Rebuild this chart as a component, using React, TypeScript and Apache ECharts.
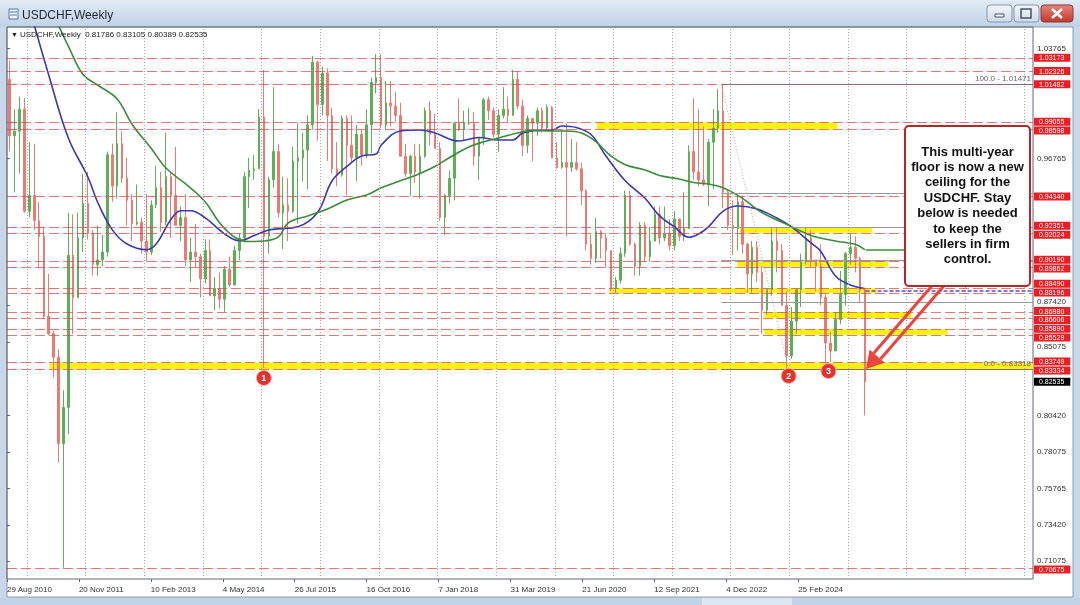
import React, { useEffect, useRef } from "react";
import * as echarts from "echarts";

// ---------------- data ----------------
const ORIGIN = "2010-08-29"; // first bar of the chart
const FIRST_MONTH = "2010-09";
const FIRST_OPEN = 1.018;

const highs = [
  1.03, 0.999, 1.007, 1.006, 0.978, 0.977, 0.94, 0.924, 0.894, 0.858, 0.846, 0.82,
  0.933, 0.932, 0.933, 0.958, 0.959, 0.922, 0.925, 0.919, 0.972, 0.977, 0.997, 0.985,
  0.968, 0.945, 0.951, 0.93, 0.945, 0.941, 0.963, 0.959, 0.984, 0.959, 0.975, 0.937,
  0.945, 0.917, 0.926, 0.907, 0.916, 0.916, 0.892, 0.895, 0.899, 0.905, 0.912, 0.92,
  0.959, 0.968, 0.97, 0.999, 1.024, 0.956, 1.013, 0.977, 0.956, 0.955, 0.975, 0.99,
  0.984, 0.995, 1.033, 1.03, 1.026, 1.025, 1.0, 0.978, 0.995, 0.995, 0.995, 0.989,
  0.986, 0.999, 1.019, 1.034, 1.034, 1.017, 1.017, 1.01, 1.003, 0.977, 0.97, 0.977,
  0.977, 1.0, 1.004, 0.996, 0.978, 0.945, 0.96, 0.991, 1.006, 0.998, 1.0, 0.997,
  0.981, 1.006, 1.007, 1.0, 0.999, 1.013, 1.007, 1.024, 1.023, 1.005, 0.995, 0.993,
  1.0, 1.0, 1.002, 1.001, 0.978, 0.985, 0.99, 0.98, 0.978, 0.965, 0.948, 0.919,
  0.93, 0.922, 0.92, 0.909, 0.892, 0.911, 0.947, 0.947, 0.914, 0.927, 0.927, 0.924,
  0.937, 0.937, 0.937, 0.929, 0.934, 0.929, 0.946, 0.976, 1.006, 0.999, 0.988, 0.98,
  0.999, 1.012, 1.0147, 0.947, 0.941, 0.944, 0.944, 0.914, 0.915, 0.915, 0.899, 0.885,
  0.924, 0.924, 0.913, 0.883, 0.873, 0.885, 0.907, 0.924, 0.922, 0.903, 0.913, 0.881,
  0.857, 0.87, 0.896, 0.908, 0.92, 0.918, 0.905, 0.885,
];
const lows = [
  0.972, 0.946, 0.958, 0.933, 0.93, 0.922, 0.898, 0.866, 0.855, 0.828, 0.774, 0.707,
  0.792, 0.856, 0.879, 0.908, 0.916, 0.893, 0.893, 0.899, 0.905, 0.94, 0.942, 0.952,
  0.925, 0.915, 0.925, 0.907, 0.902, 0.906, 0.936, 0.921, 0.925, 0.917, 0.925, 0.915,
  0.899, 0.889, 0.898, 0.879, 0.888, 0.88, 0.871, 0.872, 0.87, 0.886, 0.887, 0.903,
  0.914, 0.936, 0.954, 0.961, 0.834, 0.907, 0.949, 0.93, 0.91, 0.915, 0.933, 0.926,
  0.953, 0.948, 0.986, 0.979, 0.995, 0.966, 0.958, 0.95, 0.956, 0.944, 0.965, 0.953,
  0.963, 0.968, 0.971, 1.009, 0.987, 0.986, 0.988, 0.991, 0.969, 0.956, 0.944, 0.952,
  0.942, 0.968, 0.976, 0.974, 0.928, 0.919, 0.939, 0.941, 0.985, 0.979, 0.989, 0.963,
  0.954, 0.976, 0.992, 0.981, 0.972, 0.993, 0.99, 0.995, 0.999, 0.969, 0.971, 0.966,
  0.982, 0.984, 0.985, 0.968, 0.961, 0.961, 0.918, 0.959, 0.96, 0.938, 0.909, 0.9,
  0.901, 0.904, 0.898, 0.883, 0.882, 0.888, 0.905, 0.912, 0.893, 0.893, 0.902, 0.902,
  0.915, 0.913, 0.915, 0.909, 0.909, 0.915, 0.915, 0.923, 0.954, 0.95, 0.95, 0.937,
  0.948, 0.984, 0.936, 0.922, 0.906, 0.909, 0.907, 0.882, 0.882, 0.889, 0.856, 0.868,
  0.88, 0.895, 0.874, 0.8333, 0.84, 0.856, 0.873, 0.9, 0.898, 0.883, 0.874, 0.8375,
  0.838, 0.845, 0.862, 0.874, 0.9, 0.895, 0.876, 0.80389,
];
const closes = [
  0.982, 0.985, 0.999, 0.934, 0.944, 0.928, 0.918, 0.867, 0.856, 0.841, 0.786, 0.809,
  0.906, 0.879, 0.917, 0.939, 0.92, 0.9, 0.903, 0.908, 0.97, 0.95, 0.977, 0.955,
  0.941, 0.926, 0.927, 0.915, 0.908, 0.938, 0.949, 0.927, 0.956, 0.944, 0.925, 0.93,
  0.903, 0.908, 0.905, 0.891, 0.909, 0.88, 0.885, 0.878, 0.897, 0.887, 0.909, 0.917,
  0.956, 0.96, 0.961, 0.994, 0.918, 0.954, 0.972, 0.933, 0.938, 0.934, 0.966, 0.968,
  0.973, 0.989, 1.029, 1.002, 1.022, 0.995, 0.961, 0.957, 0.993, 0.976, 0.968, 0.983,
  0.97, 0.989, 1.016, 1.019, 0.989, 1.003, 1.001, 0.995, 0.969, 0.958, 0.969, 0.959,
  0.969, 0.998, 0.983, 0.974, 0.93, 0.944, 0.955, 0.99, 0.986, 0.99, 0.99, 0.969,
  0.981, 1.005, 0.998, 0.983, 0.995, 0.999, 0.995, 1.018, 1.001, 0.976, 0.993, 0.99,
  0.998, 0.987, 1.0, 0.968, 0.962, 0.965, 0.962, 0.965, 0.961, 0.947, 0.913, 0.904,
  0.921, 0.917, 0.909, 0.885, 0.89, 0.907, 0.944, 0.913, 0.899, 0.925, 0.905, 0.915,
  0.932, 0.917, 0.92, 0.912, 0.929, 0.918, 0.923, 0.972, 0.959, 0.954, 0.951, 0.978,
  0.987, 0.998, 0.946, 0.925, 0.923, 0.94, 0.913, 0.894, 0.911, 0.895, 0.871, 0.884,
  0.915, 0.909, 0.874, 0.842, 0.864, 0.884, 0.902, 0.917, 0.903, 0.899, 0.879, 0.85,
  0.845, 0.865, 0.881, 0.907, 0.911, 0.904, 0.884, 0.82535,
];

// moving averages (blue = faster, green = slower)
const blueMaMonths = [
  "2011-02", "2011-05", "2011-09", "2012-01", "2012-03", "2012-06", "2012-09", "2013-01",
  "2013-03", "2013-06", "2013-08", "2013-10", "2014-01", "2014-05", "2014-08", "2014-11",
  "2015-02", "2015-05", "2015-08", "2015-12", "2016-03", "2016-06", "2016-09", "2016-12",
  "2017-01", "2017-05", "2017-09", "2017-12", "2018-05", "2018-09", "2019-01", "2019-04",
  "2019-06", "2019-09", "2019-12", "2020-02", "2020-05", "2020-08", "2020-11", "2021-03",
  "2021-07", "2021-10", "2022-01", "2022-04", "2022-06", "2022-08", "2022-11", "2023-02",
  "2023-06", "2023-10", "2024-01", "2024-05", "2024-07", "2024-10", "2025-01", "2025-04",
];
const blueMaValues = [
  1.0526, 1.0211, 0.9806, 0.9558, 0.9399, 0.9221, 0.9131, 0.9095,
  0.9131, 0.9287, 0.9343, 0.9343, 0.9298, 0.9196, 0.9152, 0.9185,
  0.922, 0.923, 0.9241, 0.9332, 0.9534, 0.9625, 0.9692, 0.9705,
  0.9762, 0.9851, 0.9857, 0.9838, 0.9787, 0.981, 0.9794, 0.9794,
  0.9838, 0.9855, 0.9857, 0.9883, 0.9873, 0.9827, 0.9692, 0.9534,
  0.9424, 0.931, 0.9241, 0.9174, 0.9195, 0.924, 0.9341, 0.9373,
  0.9354, 0.9297, 0.924, 0.9138, 0.9084, 0.8927, 0.887, 0.8847,
];
const greenMaMonths = [
  "2011-07", "2011-09", "2011-12", "2012-03", "2012-07", "2012-10", "2013-02", "2013-05",
  "2013-09", "2014-01", "2014-04", "2014-07", "2014-10", "2015-01", "2015-04", "2015-06",
  "2015-10", "2016-02", "2016-06", "2016-10", "2017-01", "2017-05", "2017-08", "2017-12",
  "2018-03", "2018-07", "2018-10", "2019-01", "2019-05", "2019-08", "2019-12", "2020-03",
  "2020-06", "2020-09", "2020-12", "2021-03", "2021-07", "2021-10", "2022-02", "2022-05",
  "2022-08", "2022-11", "2023-03", "2023-07", "2024-01", "2024-05", "2024-10", "2025-02",
  "2025-04",
];
const greenMaValues = [
  1.0526, 1.0392, 1.0211, 1.0144, 1.0055, 0.9896, 0.9736, 0.9615,
  0.9514, 0.9399, 0.9265, 0.9176, 0.9147, 0.915, 0.9176, 0.9265,
  0.931, 0.9354, 0.9412, 0.9443, 0.9489, 0.9534, 0.9568, 0.9625,
  0.9681, 0.9749, 0.9782, 0.9806, 0.9838, 0.9855, 0.9851, 0.9851,
  0.9838, 0.9782, 0.9692, 0.9636, 0.9603, 0.9568, 0.9545, 0.9523,
  0.9513, 0.9489, 0.9422, 0.9332, 0.9242, 0.9186, 0.915, 0.9129,
  0.9095,
];

// axes
const xTickDates = [
  "2010-08-29", "2011-11-20", "2013-02-10", "2014-05-04", "2015-07-26", "2016-10-16",
  "2018-01-07", "2019-03-31", "2020-06-21", "2021-09-12", "2022-12-04", "2024-02-25",
];
const xTickLabels = [
  "29 Aug 2010", "20 Nov 2011", "10 Feb 2013", "4 May 2014", "26 Jul 2015", "16 Oct 2016",
  "7 Jan 2018", "31 Mar 2019", "21 Jun 2020", "12 Sep 2021", "4 Dec 2022", "25 Feb 2024",
];
const gridYears = [2011, 2012, 2013, 2014, 2015, 2016, 2017, 2018, 2019, 2020, 2021, 2022, 2023, 2024, 2025, 2026, 2027, 2028];
const yTickValues = [1.03765, 0.96765, 0.8742, 0.85075, 0.8042, 0.78075, 0.75765, 0.7342, 0.71075];

// horizontal levels (red dashed lines with red price tags)
const levelPrices = [
  1.03173, 1.02326, 1.01482, 0.99055, 0.98598, 0.9434, 0.92351, 0.92024, 0.9019, 0.89862,
  0.8849, 0.88196, 0.8698, 0.86606, 0.8589, 0.85529, 0.83749, 0.83334, 0.70675,
];

// yellow zones
const bandTops = [0.99055, 0.92351, 0.9019, 0.8849, 0.8698, 0.8589, 0.83749];
const bandBottoms = [0.98598, 0.92024, 0.89862, 0.88196, 0.86606, 0.85529, 0.83334];
const bandStarts = ["2020-09-20", "2023-02-26", "2023-02-12", "2020-12-06", "2023-07-30", "2023-07-30", "2011-05-22"];
const bandEnds = ["2024-10-27", "2025-06-01", "2025-09-07", "2025-06-29", "2026-02-01", "2026-09-13", "2028-12-31"];

// fibonacci retracement
const fibHighDate = "2022-11-03";
const fibHigh = 1.01471;
const fibLowDate = "2023-12-28";
const fibLow = 0.83318;
const fibRatios = [0.236, 0.382, 0.5, 0.618];

const currentPrice = 0.82535;
const lastBarDate = "2025-04-20";

const markerLabels = ["1", "2", "3"];
const markerDates = ["2015-01-15", "2023-12-28", "2024-09-01"];
const markerPrices = [0.8278, 0.8291, 0.8322];

const noteLines = [
  "This multi-year",
  "floor is now a new",
  "ceiling for the",
  "USDCHF. Stay",
  "below is needed",
  "to keep the",
  "sellers in firm",
  "control.",
];

// ---------------- helpers ----------------
const WEEK_MS = 7 * 86400000;
const toUTC = (s: string) => {
  const [y, m, d] = s.split("-").map(Number);
  return Date.UTC(y, m - 1, d || 15);
};
const ORIGIN_MS = toUTC(ORIGIN);
const weekOf = (s: string) => (toUTC(s) - ORIGIN_MS) / WEEK_MS;

const monthAt = (i: number) => {
  const [y0, m0] = FIRST_MONTH.split("-").map(Number);
  const t = m0 - 1 + i;
  const y = y0 + Math.floor(t / 12);
  const m = (t % 12) + 1;
  return `${y}-${String(m).padStart(2, "0")}`;
};

const FONT = "Liberation Sans";
const X_MAX = 913;
const Y_MIN = 0.69975;
const Y_MAX = 1.05134;
const GRID_TOP = 27;
const GRID_BOTTOM = 26;
const PLOT_H = 605 - GRID_TOP - GRID_BOTTOM;

type PriceLabel = { p: number; kind: "tag" | "axis" | "cur"; h: number; y: number };

// spread the right-hand price texts so that none of them overlap
function layoutPriceLabels(): PriceLabel[] {
  const k = PLOT_H / (Y_MAX - Y_MIN);
  const items: PriceLabel[] = [
    ...levelPrices.map((p) => ({ p, kind: "tag" as const, h: 8.4, y: 0 })),
    ...yTickValues.map((p) => ({ p, kind: "axis" as const, h: 9.4, y: 0 })),
    { p: currentPrice, kind: "cur" as const, h: 8.4, y: 0 },
  ];
  items.forEach((it) => (it.y = (Y_MAX - it.p) * k));
  items.sort((a, b) => a.y - b.y);
  for (let iter = 0; iter < 400; iter++) {
    let moved = false;
    for (let i = 1; i < items.length; i++) {
      const a = items[i - 1];
      const b = items[i];
      const need = (a.h + b.h) / 2 + 0.4 - (b.y - a.y);
      if (need > 0.001) {
        a.y -= need / 2;
        b.y += need / 2;
        moved = true;
      }
    }
    if (!moved) break;
  }
  items.forEach((it) => (it.y = Y_MAX - it.y / k));
  return items;
}

export default function App() {
  const ref = useRef<HTMLDivElement>(null);

  useEffect(() => {
    if (!ref.current) return;
    const chart = echarts.init(ref.current, null, { renderer: "svg" });

    const candles = closes.map((c, i) => {
      const o = i === 0 ? FIRST_OPEN : closes[i - 1];
      const h = Math.max(highs[i], o, c);
      const l = Math.min(lows[i], o, c);
      return [weekOf(monthAt(i) + "-15"), o, c, l, h];
    });
    const blueMa = blueMaMonths.map((m, i) => [weekOf(m + "-15"), blueMaValues[i]]);
    const greenMa = greenMaMonths.map((m, i) => [weekOf(m + "-15"), greenMaValues[i]]);
    const xTickWeeks = xTickDates.map(weekOf);

    const priceLabels = layoutPriceLabels().map((it) => {
      const base: any = {
        show: true,
        position: "end",
        opacity: 1,
        fontFamily: FONT,
        formatter: it.p.toFixed(5),
      };
      if (it.kind === "axis") {
        Object.assign(base, { distance: 4, fontSize: 8, color: "#333333", lineHeight: 9 });
      } else {
        Object.assign(base, {
          distance: 1,
          fontSize: 7,
          lineHeight: 8,
          color: "#ffffff",
          backgroundColor: it.kind === "cur" ? "#000000" : "#ee1d23",
          padding: [0, 6, 0, 5],
        });
      }
      return { yAxis: it.y, label: base };
    });

    const fibLines: any[] = [];
    const fw0 = weekOf(fibHighDate);
    fibRatios.forEach((r) => {
      const p = fibLow + r * (fibHigh - fibLow);
      fibLines.push([
        { coord: [fw0, p], lineStyle: { color: "#9a9a9a", width: 1, type: "solid" } },
        { coord: [X_MAX, p] },
      ]);
    });
    fibLines.push([
      {
        coord: [fw0, fibHigh],
        lineStyle: { color: "#8d6b6b", width: 1, type: "solid" },
        label: {
          show: true,
          position: "insideEndTop",
          formatter: "100.0 - " + fibHigh.toFixed(5),
          color: "#666",
          fontSize: 8,
          fontFamily: FONT,
          distance: 2,
        },
      },
      { coord: [X_MAX, fibHigh] },
    ]);
    fibLines.push([
      {
        coord: [fw0, fibLow],
        lineStyle: { color: "#8d6b6b", width: 1, type: "solid" },
        label: {
          show: true,
          position: "insideEndTop",
          formatter: "0.0 - " + fibLow.toFixed(5),
          color: "#666",
          fontSize: 8,
          fontFamily: FONT,
          distance: 2,
        },
      },
      { coord: [X_MAX, fibLow] },
    ]);
    fibLines.push([
      { coord: [fw0, fibHigh], lineStyle: { color: "#c9a0a0", width: 1, type: [1, 2] } },
      { coord: [weekOf(fibLowDate), fibLow] },
    ]);
    // extensions of the averages to the right of the last bar
    fibLines.push([
      { coord: [weekOf(lastBarDate), blueMaValues[blueMaValues.length - 1] - 0.0012], lineStyle: { color: "#5252d6", width: 1.5, type: [4, 2] } },
      { coord: [X_MAX, blueMaValues[blueMaValues.length - 1] - 0.0012] },
    ]);
    fibLines.push([
      { coord: [weekOf(lastBarDate), greenMaValues[greenMaValues.length - 1]], lineStyle: { color: "#3a8f3a", width: 1.5, type: "solid" } },
      { coord: [weekOf("2025-12-31"), greenMaValues[greenMaValues.length - 1]] },
    ]);

    const gBtn = (x: number, w: number, top: string, bottom: string, stroke: string) => ({
      type: "rect",
      shape: { x, y: 5, width: w, height: 17, r: 3 },
      style: {
        fill: new echarts.graphic.LinearGradient(0, 0, 0, 1, [
          { offset: 0, color: top },
          { offset: 1, color: bottom },
        ]),
        stroke,
        lineWidth: 1,
      },
      z: -90,
      silent: true,
    });

    const txt = (text: string, x: number, y: number, font: string, fill: string, align = "left") => ({
      type: "text",
      x,
      y,
      style: {
        text,
        font,
        fill,
        textAlign: align,
        align,
        textVerticalAlign: "middle",
        verticalAlign: "middle",
      },
      silent: true,
    });

    // arrow geometry
    const tip = [866, 369];
    const start = [943, 280];
    const dx = start[0] - tip[0];
    const dy = start[1] - tip[1];
    const len = Math.hypot(dx, dy);
    const u = [dx / len, dy / len]; // from tip towards start
    const n = [-u[1], u[0]];
    const base = [tip[0] + 17 * u[0], tip[1] + 17 * u[1]];
    const off = 4.5;
    const headW = 10;

    const graphics: any[] = [
      { type: "rect", shape: { x: 0, y: 0, width: 1080, height: 605 }, style: { fill: "#c8d7ea" }, z: -100, silent: true },
      {
        type: "rect",
        shape: { x: 0, y: 0, width: 1080, height: 27 },
        style: {
          fill: new echarts.graphic.LinearGradient(0, 0, 0, 1, [
            { offset: 0, color: "#e2ebf6" },
            { offset: 1, color: "#c0d2e8" },
          ]),
        },
        z: -99,
        silent: true,
      },
      { type: "rect", shape: { x: 7, y: 27, width: 1066, height: 570 }, style: { fill: "#ffffff", stroke: "#8e9db0", lineWidth: 1 }, z: -98, silent: true },
      { type: "rect", shape: { x: 0, y: 598, width: 1080, height: 7 }, style: { fill: "#c3d3e7" }, z: -97, silent: true },
      { type: "rect", shape: { x: 702, y: 598, width: 90, height: 7 }, style: { fill: "#dde7f3" }, z: -96, silent: true },
      // title icon
      { type: "rect", shape: { x: 9, y: 9, width: 9, height: 10 }, style: { fill: "#eef4fb", stroke: "#5577a8", lineWidth: 1 }, z: -90, silent: true },
      { type: "line", shape: { x1: 10, y1: 12, x2: 17, y2: 12 }, style: { stroke: "#5577a8", lineWidth: 1 }, z: -89, silent: true },
      { type: "line", shape: { x1: 10, y1: 15, x2: 17, y2: 15 }, style: { stroke: "#5577a8", lineWidth: 1 }, z: -89, silent: true },
      { ...txt("USDCHF,Weekly", 22, 15, `12px "${FONT}"`, "#1d2733"), z: -89 },
      // window buttons
      gBtn(987, 25, "#f3f6fb", "#cfdbea", "#8797ad"),
      gBtn(1014, 25, "#f3f6fb", "#cfdbea", "#8797ad"),
      gBtn(1041, 32, "#e6847a", "#c2392d", "#8a3b35"),
      { type: "rect", shape: { x: 995, y: 14, width: 9, height: 3 }, style: { fill: "#ffffff", stroke: "#44546a", lineWidth: 1 }, z: -88, silent: true },
      { type: "rect", shape: { x: 1021, y: 9, width: 10, height: 9 }, style: { fill: "none", stroke: "#44546a", lineWidth: 1.5 }, z: -88, silent: true },
      { type: "line", shape: { x1: 1052, y1: 9, x2: 1062, y2: 18 }, style: { stroke: "#ffffff", lineWidth: 2.5 }, z: -88, silent: true },
      { type: "line", shape: { x1: 1062, y1: 9, x2: 1052, y2: 18 }, style: { stroke: "#ffffff", lineWidth: 2.5 }, z: -88, silent: true },
      // header of the chart window
      { ...txt("\u25BC", 11, 34, `7px "${FONT}"`, "#222"), z: 50 },
      { ...txt("USDCHF,Weekly  0.81786 0.83105 0.80389 0.82535", 20, 34, `8px "${FONT}"`, "#222"), z: 50 },
      // arrow
      {
        type: "line",
        shape: { x1: start[0] + off * n[0], y1: start[1] + off * n[1], x2: base[0] + off * n[0], y2: base[1] + off * n[1] },
        style: { stroke: "#e8463f", lineWidth: 3 },
        z: 90,
        silent: true,
      },
      {
        type: "line",
        shape: { x1: start[0] - off * n[0], y1: start[1] - off * n[1], x2: base[0] - off * n[0], y2: base[1] - off * n[1] },
        style: { stroke: "#e8463f", lineWidth: 3 },
        z: 90,
        silent: true,
      },
      {
        type: "polygon",
        shape: {
          points: [
            [tip[0], tip[1]],
            [base[0] + headW * n[0], base[1] + headW * n[1]],
            [base[0] - headW * n[0], base[1] - headW * n[1]],
          ],
        },
        style: { fill: "#e8463f" },
        z: 90,
        silent: true,
      },
      // note box
      {
        type: "rect",
        shape: { x: 905, y: 126, width: 125, height: 160, r: 4 },
        style: { fill: "#ffffff", stroke: "#b3262b", lineWidth: 2 },
        z: 95,
        silent: true,
      },
      ...noteLines.map((t, i) => ({
        ...txt(t, 967.5, 151 + i * 15.4, `bold 13px "${FONT}"`, "#111111", "center"),
        z: 96,
      })),
    ];

    const option: any = {
      animation: false,
      backgroundColor: "transparent",
      textStyle: { fontFamily: FONT },
      grid: {
        left: 7,
        right: 47,
        top: GRID_TOP,
        bottom: GRID_BOTTOM,
        show: true,
        backgroundColor: "transparent",
        borderColor: "#5f6a75",
        borderWidth: 1,
      },
      xAxis: {
        type: "value",
        min: 0,
        max: X_MAX,
        axisLine: { show: false },
        splitLine: { show: false },
        axisTick: { show: true, length: 3, lineStyle: { color: "#5f6a75" }, customValues: xTickWeeks },
        axisLabel: {
          show: true,
          customValues: xTickWeeks,
          align: "left",
          margin: 6,
          fontSize: 8,
          color: "#333",
          formatter: (v: number) => {
            const i = xTickWeeks.findIndex((w) => Math.abs(w - v) < 0.01);
            return i >= 0 ? xTickLabels[i] : "";
          },
        },
      },
      yAxis: {
        type: "value",
        position: "right",
        min: Y_MIN,
        max: Y_MAX,
        scale: true,
        axisLine: { show: false },
        splitLine: { show: false },
        axisTick: { show: true, length: 3, inside: false, lineStyle: { color: "#5f6a75" }, customValues: yTickValues },
        axisLabel: { show: false },
      },
      graphic: { elements: graphics },
      series: [
        {
          name: "yearGrid",
          type: "line",
          data: [],
          z: 1,
          silent: true,
          markLine: {
            silent: true,
            symbol: "none",
            precision: 6,
            label: { show: false },
            lineStyle: { color: "#a8a8a8", width: 1, type: [1, 2] },
            data: gridYears.map((y) => ({ xAxis: weekOf(`${y}-01-01`) })),
          },
        },
        {
          name: "zones",
          type: "line",
          data: [],
          z: 1,
          silent: true,
          markArea: {
            silent: true,
            itemStyle: { color: "#fff200", opacity: 0.95 },
            data: bandTops.map((t, i) => [
              { xAxis: weekOf(bandStarts[i]), yAxis: t },
              { xAxis: Math.min(X_MAX, weekOf(bandEnds[i])), yAxis: bandBottoms[i] },
            ]),
          },
        },
        {
          name: "levels",
          type: "line",
          data: [],
          z: 2,
          silent: true,
          markLine: {
            silent: true,
            symbol: "none",
            precision: 6,
            label: { show: false },
            lineStyle: { color: "#de4a4a", width: 1, type: [10, 4], opacity: 0.75 },
            data: levelPrices.map((p) => ({ yAxis: p })),
          },
        },
        {
          name: "fib",
          type: "line",
          data: [],
          z: 2,
          silent: true,
          markLine: {
            silent: true,
            symbol: "none",
            precision: 6,
            label: { show: false },
            data: fibLines,
          },
        },
        {
          name: "USDCHF",
          type: "candlestick",
          data: candles,
          encode: { x: 0, y: [1, 2, 3, 4] },
          barWidth: 2,
          z: 3,
          itemStyle: {
            color: "#5fae58",
            color0: "#ea7a72",
            borderColor: "#5fae58",
            borderColor0: "#ea7a72",
            borderWidth: 1,
          },
        },
        {
          name: "MA fast",
          type: "line",
          data: blueMa,
          smooth: 0.4,
          showSymbol: false,
          z: 4,
          lineStyle: { color: "#3838b0", width: 1.6 },
        },
        {
          name: "MA slow",
          type: "line",
          data: greenMa,
          smooth: 0.4,
          showSymbol: false,
          z: 4,
          lineStyle: { color: "#3c8c3c", width: 1.6 },
        },
        {
          name: "markers",
          type: "line",
          data: [],
          z: 6,
          markPoint: {
            silent: true,
            symbol: "circle",
            symbolSize: 15,
            itemStyle: { color: "#e3332e", borderColor: "#f6b3ae", borderWidth: 1 },
            label: { show: true, color: "#ffffff", fontSize: 9, fontWeight: "bold", fontFamily: FONT },
            data: markerLabels.map((t, i) => ({
              coord: [weekOf(markerDates[i]), markerPrices[i]],
              label: { formatter: t },
            })),
          },
        },
        {
          name: "priceScale",
          type: "line",
          data: [],
          z: 7,
          markLine: {
            silent: true,
            symbol: "none",
            precision: 6,
            lineStyle: { color: "rgba(0,0,0,0)", width: 1, opacity: 1 },
            label: { show: true, opacity: 1 },
            data: priceLabels,
          },
        },
      ],
    };

    chart.setOption(option);
    return () => chart.dispose();
  }, []);

  return <div ref={ref} style={{ position: "fixed", left: 0, top: 0, width: 1080, height: 605 }} />;
}
